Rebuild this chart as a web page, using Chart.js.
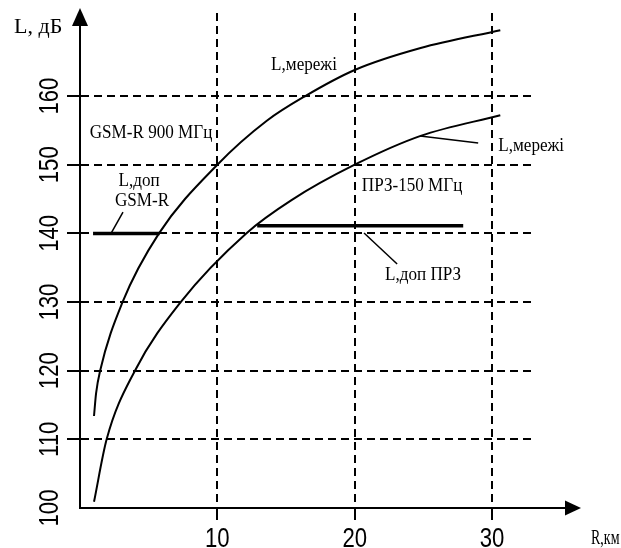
<!DOCTYPE html>
<html>
<head>
<meta charset="utf-8">
<script src="https://cdn.jsdelivr.net/npm/chart.js@4.4.0/dist/chart.umd.min.js"></script>
<style>
  html, body { margin: 0; padding: 0; background: #fff; }
  #wrap { width: 621px; height: 548px; }
</style>
</head>
<body>
<div id="wrap"><canvas id="chart"></canvas></div>
<script>
// Path loss L (dB) against distance R (km)

// GSM-R 900 MHz network curve
const gsmR = [1.02, 1.17, 1.46, 3.08, 5.75, 10, 13.6, 16.4, 20, 24.8, 30.6];
const gsmL = [113.4, 116.7, 119.95, 129.9, 140, 150, 156.4, 160, 163.8, 167, 169.6];

// ПРЗ 150 MHz network curve
const przR = [1.02, 1.94, 4.0, 7.33, 12.1, 15.4, 20, 24.8, 30.6];
const przL = [100.9, 110, 120, 130, 140, 144.85, 150, 154.2, 157.2];

// permitted loss levels
const gsmDopR = [0.95, 5.8];
const gsmDopL = [140, 140];
const przDopR = [12.9, 27.9];
const przDopL = [141.1, 141.1];

// leader lines from the captions
const gsmLeadR = [3.13, 2.26];
const gsmLeadL = [143.1, 140];
const netLeadR = [24.76, 28.99];
const netLeadL = [154.17, 153.15];
const przLeadR = [20.68, 23.09];
const przLeadL = [140.05, 135.53];

// axis ticks
const xTicks = [10, 20, 30];
const yTicks = [100, 110, 120, 130, 140, 150, 160];

// captions (data coordinates)
const captions = [
  { text: 'L,мережі', r: 16.31, l: 164.5 },
  { text: 'GSM-R 900 МГц', r: 5.17, l: 154.6 },
  { text: 'L,доп', r: 4.3, l: 147.6 },
  { text: 'GSM-R', r: 4.52, l: 144.7 },
  { text: 'L,мережі', r: 32.85, l: 152.7 },
  { text: 'ПРЗ-150 МГц', r: 24.18, l: 146.9 },
  { text: 'L,доп ПРЗ', r: 24.98, l: 133.9 }
];

function pts(xs, ys) {
  return xs.map((x, i) => ({ x: x, y: ys[i] }));
}

function line(xs, ys, width, smooth) {
  return {
    data: pts(xs, ys),
    showLine: true,
    borderColor: '#000',
    borderWidth: width,
    pointRadius: 0,
    cubicInterpolationMode: smooth ? 'monotone' : 'default',
    tension: 0
  };
}

// axis arrows, rotated tick labels and captions
const decor = {
  id: 'decor',
  afterDraw(chart) {
    const ctx = chart.ctx;
    const xs = chart.scales.x;
    const ys = chart.scales.y;
    const area = chart.chartArea;
    const x0 = xs.getPixelForValue(0);
    const y0 = ys.getPixelForValue(100);

    ctx.save();
    ctx.strokeStyle = '#000';
    ctx.fillStyle = '#000';
    ctx.lineWidth = 2;
    ctx.beginPath();
    ctx.moveTo(x0, area.top);
    ctx.lineTo(x0, 24);
    ctx.moveTo(area.right, y0);
    ctx.lineTo(567, y0);
    ctx.stroke();

    ctx.beginPath();
    ctx.moveTo(x0, 8);
    ctx.lineTo(x0 - 8, 26);
    ctx.lineTo(x0 + 8, 26);
    ctx.closePath();
    ctx.fill();

    ctx.beginPath();
    ctx.moveTo(581, y0);
    ctx.lineTo(565, y0 - 7.5);
    ctx.lineTo(565, y0 + 7.5);
    ctx.closePath();
    ctx.fill();

    // tick labels
    ctx.font = '27px "Liberation Sans", Arial, sans-serif';
    ctx.textAlign = 'center';
    ctx.textBaseline = 'alphabetic';
    xTicks.forEach(v => {
      ctx.save();
      ctx.translate(xs.getPixelForValue(v), 547);
      ctx.scale(0.82, 1);
      ctx.fillText(String(v), 0, 0);
      ctx.restore();
    });
    yTicks.forEach(v => {
      ctx.save();
      ctx.translate(58, ys.getPixelForValue(v));
      ctx.rotate(-Math.PI / 2);
      ctx.scale(0.82, 1);
      ctx.fillText(String(v), 0, 0);
      ctx.restore();
    });

    // axis titles
    ctx.font = '22px "Liberation Serif", "Times New Roman", serif';
    ctx.textAlign = 'left';
    ctx.fillText('L, дБ', 14, 33);
    ctx.save();
    ctx.translate(591, 544);
    ctx.scale(0.7, 1);
    ctx.font = '20px "Liberation Serif", "Times New Roman", serif';
    ctx.fillText('R,км', 0, 0);
    ctx.restore();

    // captions
    ctx.font = '19px "Liberation Serif", "Times New Roman", serif';
    ctx.textAlign = 'center';
    ctx.textBaseline = 'middle';
    captions.forEach(c => {
      ctx.save();
      ctx.translate(xs.getPixelForValue(c.r), ys.getPixelForValue(c.l));
      ctx.scale(0.9, 1);
      ctx.fillText(c.text, 0, 0);
      ctx.restore();
    });
    ctx.restore();
  }
};

const hideAt = base => ctx => (ctx.tick && ctx.tick.value === base ? 'rgba(0,0,0,0)' : '#000');

new Chart(document.getElementById('chart'), {
  type: 'scatter',
  data: {
    datasets: [
      line(gsmR, gsmL, 2, true),
      line(przR, przL, 2, true),
      line(gsmDopR, gsmDopL, 3.5, false),
      line(przDopR, przDopL, 3.5, false),
      line(gsmLeadR, gsmLeadL, 1.5, false),
      line(netLeadR, netLeadL, 1.5, false),
      line(przLeadR, przLeadL, 1.5, false)
    ]
  },
  options: {
    responsive: true,
    maintainAspectRatio: false,
    animation: false,
    layout: { padding: { top: 13, right: 85, bottom: 0, left: 0 } },
    plugins: {
      legend: { display: false },
      tooltip: { enabled: false }
    },
    scales: {
      x: {
        type: 'linear',
        min: 0,
        max: 33.2,
        afterBuildTicks: s => { s.ticks = xTicks.map(v => ({ value: v })); },
        afterFit: s => { s.height = 40; },
        ticks: { display: false },
        grid: {
          color: hideAt(0),
          tickColor: hideAt(0),
          lineWidth: 2,
          tickWidth: 2,
          tickLength: 12,
          tickBorderDash: []
        },
        border: { display: true, color: '#000', width: 2, dash: [8, 5] }
      },
      y: {
        type: 'linear',
        min: 100,
        max: 172.1,
        afterBuildTicks: s => { s.ticks = yTicks.map(v => ({ value: v })); },
        afterFit: s => { s.width = 80; },
        ticks: { display: false },
        grid: {
          color: hideAt(100),
          tickColor: hideAt(100),
          lineWidth: 2,
          tickWidth: 2,
          tickLength: 13,
          tickBorderDash: []
        },
        border: { display: true, color: '#000', width: 2, dash: [8, 5] }
      }
    }
  },
  plugins: [decor]
});
</script>
</body>
</html>
